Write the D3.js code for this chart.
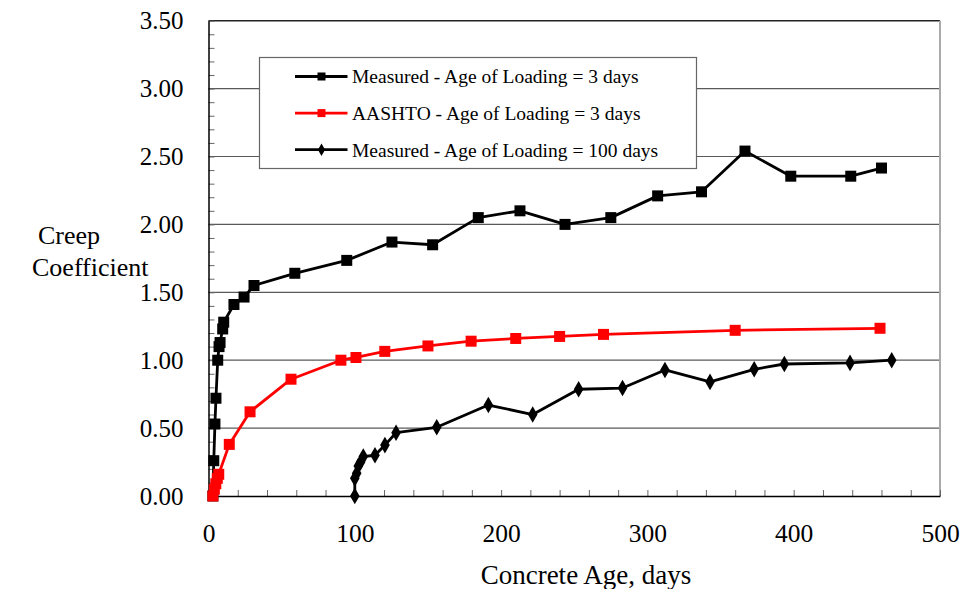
<!DOCTYPE html>
<html>
<head>
<meta charset="utf-8">
<script src="https://cdn.jsdelivr.net/npm/d3@7"></script>
<style>
  body { margin: 0; background: #fff; }
  text { font-family: "Liberation Serif", "Times New Roman", serif; fill: #000; }
</style>
</head>
<body>
<div id="chart"></div>
<script>
// data
var m3Age = [3, 3.6, 4.4, 5.1, 6.3, 7.2, 7.9, 9.7, 10.4, 17.4, 24.3, 31.1, 59, 94.5, 125.4, 153.2, 184.4, 212.9, 243.7, 275, 307, 337, 366.7, 398, 439, 460];
var m3Val = [0, 0.26, 0.53, 0.72, 1.0, 1.10, 1.13, 1.23, 1.28, 1.41, 1.465, 1.55, 1.64, 1.735, 1.87, 1.85, 2.05, 2.10, 2.0, 2.05, 2.21, 2.24, 2.54, 2.355, 2.355, 2.415];

var aashtoAge = [3, 4, 5, 6, 7, 14.2, 28.4, 56.4, 90.5, 100.8, 120.5, 150, 179.5, 210, 240, 270, 360, 459];
var aashtoVal = [0, 0.05, 0.09, 0.13, 0.16, 0.38, 0.62, 0.86, 1.0, 1.02, 1.065, 1.105, 1.14, 1.16, 1.175, 1.19, 1.22, 1.235];

var m100Age = [100, 100, 101.3, 102.4, 104, 105.8, 113.8, 120.6, 128.2, 156, 191.3, 221.6, 253, 283, 312, 342.8, 373, 393.6, 438.5, 467];
var m100Val = [0, 0.13, 0.167, 0.22, 0.25, 0.29, 0.30, 0.375, 0.466, 0.506, 0.67, 0.60, 0.786, 0.795, 0.928, 0.84, 0.933, 0.972, 0.98, 1.0];

var xTicks = [0, 100, 200, 300, 400, 500];
var yTicks = [0, 0.5, 1.0, 1.5, 2.0, 2.5, 3.0, 3.5];

var seriesNames = ["Measured - Age of Loading = 3 days", "AASHTO - Age of Loading = 3 days", "Measured - Age of Loading = 100 days"];

// build series
function zip(a, b) { return a.map(function(d, i) { return {x: d, y: b[i]}; }); }
var series = [
  {name: seriesNames[0], pts: zip(m3Age, m3Val), color: "#000", shape: "square"},
  {name: seriesNames[1], pts: zip(aashtoAge, aashtoVal), color: "#ff0000", shape: "square"},
  {name: seriesNames[2], pts: zip(m100Age, m100Val), color: "#000", shape: "diamond"}
];

var margin = {top: 20.7, right: 20, bottom: 93, left: 208.5},
    W = 960, H = 589,
    width = W - margin.left - margin.right,
    height = H - margin.top - margin.bottom;

var svg = d3.select("#chart").append("svg")
    .attr("width", W)
    .attr("height", H);

svg.append("rect").attr("width", W).attr("height", H).attr("fill", "#fff");

var g = svg.append("g")
    .attr("transform", "translate(" + margin.left + "," + margin.top + ")");

var x = d3.scaleLinear().domain([0, 500]).range([0, width]);
var y = d3.scaleLinear().domain([0, 3.5]).range([height, 0]);

// gridlines
g.selectAll(".grid")
    .data(yTicks.filter(function(d) { return d > 0 && d < 3.5; }))
  .enter().append("line")
    .attr("x1", 0).attr("x2", width)
    .attr("y1", y).attr("y2", y)
    .attr("stroke", "#5a5a5a")
    .attr("stroke-width", 1.2);

// top and right border
g.append("line").attr("x1", 0).attr("x2", width).attr("y1", 0).attr("y2", 0)
    .attr("stroke", "#222").attr("stroke-width", 1.5);
g.append("line").attr("x1", width).attr("x2", width).attr("y1", 0).attr("y2", height)
    .attr("stroke", "#aaa").attr("stroke-width", 2);

// minor ticks (inside)
var yMinor = d3.range(0, 3.501, 0.1);
var yAxisMinor = d3.axisRight(y).tickValues(yMinor).tickSize(6).tickFormat("");
g.append("g").call(yAxisMinor)
    .call(function(s) { s.select(".domain").remove(); s.selectAll("line").attr("stroke", "#666"); });

var xMinor = d3.range(0, 501, 20);
var xAxisMinor = d3.axisTop(x).tickValues(xMinor).tickSize(6).tickFormat("");
g.append("g").attr("transform", "translate(0," + height + ")").call(xAxisMinor)
    .call(function(s) { s.select(".domain").remove(); s.selectAll("line").attr("stroke", "#666"); });

// axes with labels
var yAxis = d3.axisLeft(y).tickValues(yTicks).tickSize(0).tickPadding(25)
    .tickFormat(d3.format(".2f"));
g.append("g").call(yAxis)
    .call(function(s) {
      s.select(".domain").attr("stroke", "#000").attr("stroke-width", 1.5);
      s.selectAll("text").style("font-size", "25px").attr("font-family", null);
    });

var xAxis = d3.axisBottom(x).tickValues(xTicks).tickSize(0).tickPadding(28);
g.append("g").attr("transform", "translate(0," + height + ")").call(xAxis)
    .call(function(s) {
      s.select(".domain").attr("stroke", "#000").attr("stroke-width", 1.5);
      s.selectAll("text").style("font-size", "25.5px").attr("font-family", null);
    });

// axis titles
svg.append("text")
    .attr("x", 586)
    .attr("y", 584)
    .style("text-anchor", "middle")
    .style("font-size", "27px")
    .text("Concrete Age, days");

svg.append("text").attr("x", 38).attr("y", 244).style("font-size", "26px").text("Creep");
svg.append("text").attr("x", 32).attr("y", 276).style("font-size", "26px").text("Coefficient");

// markers
var square = d3.symbol().type(d3.symbolSquare);
var diamond = d3.symbol().type(d3.symbolDiamond);
function marker(shape, size) {
  return shape == "square" ? square.size(size)() : diamond.size(size)();
}

var line = d3.line().x(function(d) { return x(d.x); }).y(function(d) { return y(d.y); });

series.forEach(function(s) {
  g.append("path")
      .datum(s.pts)
      .attr("fill", "none")
      .attr("stroke", s.color)
      .attr("stroke-width", 2.8)
      .attr("stroke-linejoin", "round")
      .attr("d", line);
  g.selectAll(null)
      .data(s.pts)
    .enter().append("path")
      .attr("transform", function(d) { return "translate(" + x(d.x) + "," + y(d.y) + ")"; })
      .attr("d", marker(s.shape, s.shape == "square" ? 121 : 80))
      .attr("fill", s.color);
});

// legend
var legend = svg.append("g").attr("transform", "translate(259.5,57.5)");
legend.append("rect")
    .attr("width", 437)
    .attr("height", 111)
    .attr("fill", "#fff")
    .attr("stroke", "#666")
    .attr("stroke-width", 1.2);

var items = legend.selectAll(".legend")
    .data(series)
  .enter().append("g")
    .attr("class", "legend")
    .attr("transform", function(d, i) { return "translate(0," + (19 + i * 36.6) + ")"; });

items.append("line")
    .attr("x1", 35.5).attr("x2", 88)
    .attr("stroke", function(d) { return d.color; })
    .attr("stroke-width", 2.8);
items.append("path")
    .attr("transform", "translate(62,0)")
    .attr("d", function(d) { return marker(d.shape, d.shape == "square" ? 64 : 45); })
    .attr("fill", function(d) { return d.color; });
items.append("text")
    .attr("x", 92.5)
    .attr("dy", "0.35em")
    .style("font-size", "19.5px")
    .text(function(d) { return d.name; });
</script>
</body>
</html>
